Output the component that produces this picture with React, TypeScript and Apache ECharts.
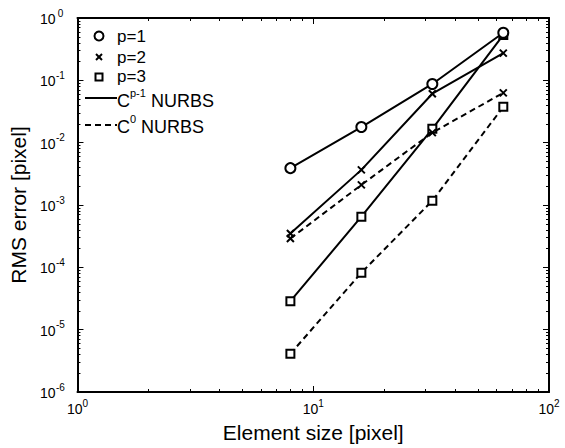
import React, { useEffect, useRef } from "react";
import * as echarts from "echarts";

const elementSizes = [8, 16, 32, 64];
const p1Smooth = [0.0039, 0.0178, 0.0875, 0.58];
const p2Smooth = [3.5e-4, 3.66e-3, 0.061, 0.273];
const p2C0 = [2.9e-4, 2.1e-3, 0.0145, 0.063];
const p3Smooth = [2.87e-5, 6.5e-4, 0.0167, 0.535];
const p3C0 = [4.1e-6, 8.2e-5, 1.17e-3, 0.0376];

const xMajor = [1, 10, 100];
const xMinor = [2, 3, 4, 5, 6, 7, 8, 9, 20, 30, 40, 50, 60, 70, 80, 90];
const yMajor = [1e-6, 1e-5, 1e-4, 1e-3, 1e-2, 1e-1, 1];
const yMinor: number[] = [];
[1e-6, 1e-5, 1e-4, 1e-3, 1e-2, 1e-1].forEach((d) => {
  for (let k = 2; k <= 9; k++) yMinor.push(d * k);
});

const FONT = "Liberation Sans, Arial, Helvetica, sans-serif";
const X_PATH = "path://M0,0L10,10M10,0L0,10";

function expLabel(v: number) {
  const e = Math.round(Math.log10(v));
  const s = e < 0 ? "-" + -e : String(e);
  return `{b|10}{s|${s}}`;
}

const richLabel = {
  b: { fontSize: 14, fontFamily: FONT, color: "#000", lineHeight: 16, verticalAlign: "bottom" },
  s: { fontSize: 10, fontFamily: FONT, color: "#000", lineHeight: 10, padding: [0, 0, 8, 0], verticalAlign: "bottom" },
};
const richY = {
  b: richLabel.b,
  s: { ...richLabel.s, width: 10, align: "left" },
};

export default function App() {
  const ref = useRef<HTMLDivElement>(null);
  useEffect(() => {
    if (!ref.current) return;
    const chart = echarts.init(ref.current, undefined, { renderer: "svg" });
    const toPairs = (ys: number[]) => elementSizes.map((x, i) => [x, ys[i]]);
    const grid = { left: 72, right: 16, top: 18, bottom: 54 };
    const majorTick = { show: true, inside: true, length: 6, lineStyle: { color: "#000", width: 1 } };
    const minorTick = { show: true, inside: true, length: 3, lineStyle: { color: "#000", width: 1 } };
    const baseAxis = {
      type: "log" as const,
      logBase: 10,
      splitLine: { show: false },
      minorTick: { show: false },
      minorSplitLine: { show: false },
    };
    const titleStyle = { fontFamily: FONT, fontSize: 21, color: "#000" };
    const xAxes = [
      {
        ...baseAxis, min: 1, max: 100, position: "bottom",
        axisLine: { show: true, lineStyle: { color: "#000", width: 2 } },
        axisTick: { ...majorTick, customValues: xMajor },
        axisLabel: { show: true, customValues: xMajor, formatter: expLabel, rich: richLabel, margin: 8 },
        name: "Element size [pixel]", nameLocation: "middle", nameGap: 30,
        nameTextStyle: titleStyle,
      },
      {
        ...baseAxis, min: 1, max: 100, position: "bottom",
        axisLine: { show: false }, axisTick: { ...minorTick, customValues: xMinor }, axisLabel: { show: false },
      },
      {
        ...baseAxis, min: 1, max: 100, position: "top",
        axisLine: { show: true, lineStyle: { color: "#000", width: 2 } },
        axisTick: { ...majorTick, customValues: xMajor }, axisLabel: { show: false },
      },
      {
        ...baseAxis, min: 1, max: 100, position: "top",
        axisLine: { show: false }, axisTick: { ...minorTick, customValues: xMinor }, axisLabel: { show: false },
      },
    ];
    const yAxes = [
      {
        ...baseAxis, min: 1e-6, max: 1, position: "left",
        axisLine: { show: true, lineStyle: { color: "#000", width: 2 } },
        axisTick: { ...majorTick, customValues: yMajor },
        axisLabel: { show: true, customValues: yMajor, formatter: expLabel, rich: richY, margin: 12 },
        name: "RMS error [pixel]", nameLocation: "middle", nameGap: 41,
        nameTextStyle: titleStyle,
      },
      {
        ...baseAxis, min: 1e-6, max: 1, position: "left",
        axisLine: { show: false }, axisTick: { ...minorTick, customValues: yMinor }, axisLabel: { show: false },
      },
      {
        ...baseAxis, min: 1e-6, max: 1, position: "right",
        axisLine: { show: true, lineStyle: { color: "#000", width: 2 } },
        axisTick: { ...majorTick, customValues: yMajor }, axisLabel: { show: false },
      },
      {
        ...baseAxis, min: 1e-6, max: 1, position: "right",
        axisLine: { show: false }, axisTick: { ...minorTick, customValues: yMinor }, axisLabel: { show: false },
      },
    ];
    const mk = (name: string, ys: number[], symbol: string, size: number, dashed: boolean, z: number) => ({
      name,
      type: "line",
      data: toPairs(ys),
      symbol,
      symbolSize: size,
      showAllSymbol: true,
      z,
      lineStyle: { color: "#000", width: 2, type: dashed ? [6, 4] : "solid" },
      itemStyle: symbol.startsWith("path")
        ? { color: "transparent", borderColor: "#000", borderWidth: 2 }
        : { color: "#000", borderColor: "#000", borderWidth: 2 },
      emphasis: { disabled: true },
    });
    const legendText = { fontFamily: FONT, fontSize: 17, fill: "#000" };
    const supRich = {
      n: { fontFamily: FONT, fontSize: 18, fill: "#000", lineHeight: 20, verticalAlign: "bottom" },
      s: { fontFamily: FONT, fontSize: 11, fill: "#000", lineHeight: 11, padding: [0, 0, 12, 0], verticalAlign: "bottom" },
    };
    chart.setOption({
      animation: false,
      backgroundColor: "#fff",
      grid,
      xAxis: xAxes,
      yAxis: yAxes,
      series: [
        mk("p=1 smooth", p1Smooth, "emptyCircle", 10, false, 5),
        mk("p=2 smooth", p2Smooth, X_PATH, 7, false, 4),
        mk("p=2 C0", p2C0, X_PATH, 7, true, 4),
        mk("p=3 smooth", p3Smooth, "emptyRect", 8, false, 3),
        mk("p=3 C0", p3C0, "emptyRect", 8, true, 3),
      ],
      graphic: [
        { type: "circle", shape: { cx: 99, cy: 36, r: 4.5 }, style: { fill: "#fff", stroke: "#000", lineWidth: 2 } },
        { type: "text", x: 117, y: 36, style: { ...legendText, text: "p=1", verticalAlign: "middle" } },
        { type: "line", shape: { x1: 96, y1: 54, x2: 102, y2: 60 }, style: { stroke: "#000", lineWidth: 2 } },
        { type: "line", shape: { x1: 102, y1: 54, x2: 96, y2: 60 }, style: { stroke: "#000", lineWidth: 2 } },
        { type: "text", x: 117, y: 57, style: { ...legendText, text: "p=2", verticalAlign: "middle" } },
        { type: "rect", shape: { x: 95.5, y: 73.5, width: 7, height: 7 }, style: { fill: "#fff", stroke: "#000", lineWidth: 2 } },
        { type: "text", x: 117, y: 76, style: { ...legendText, text: "p=3", verticalAlign: "middle" } },
        { type: "line", shape: { x1: 85, y1: 98, x2: 117, y2: 98 }, style: { stroke: "#000", lineWidth: 2 } },
        { type: "text", x: 117, y: 100, style: { text: "{n|C}{s|p-1}{n| NURBS}", verticalAlign: "middle", rich: supRich } },
        { type: "line", shape: { x1: 85, y1: 125, x2: 117, y2: 125 }, style: { stroke: "#000", lineWidth: 2, lineDash: [6, 4] } },
        { type: "text", x: 117, y: 126, style: { text: "{n|C}{s|0}{n| NURBS}", verticalAlign: "middle", rich: supRich } },
      ],
    });
    return () => chart.dispose();
  }, []);
  return <div ref={ref} style={{ width: 565, height: 448, position: "absolute", left: 0, top: 0 }} />;
}
